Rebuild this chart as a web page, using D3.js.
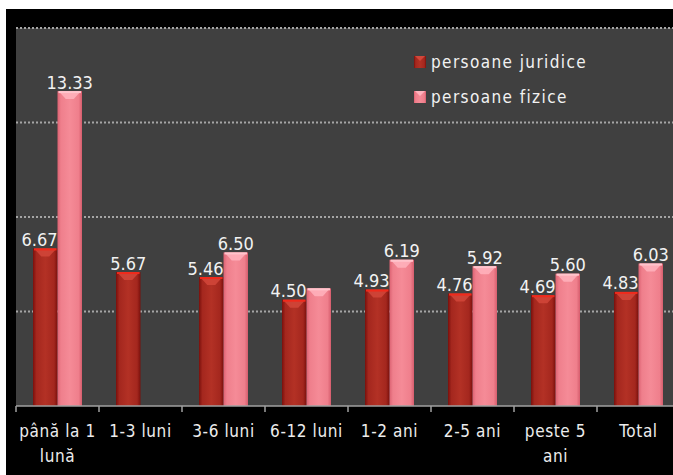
<!DOCTYPE html>
<html>
<head>
<meta charset="utf-8">
<script src="https://cdn.jsdelivr.net/npm/d3@7"></script>
<style>
  html, body { margin: 0; padding: 0; background: #fff; }
  svg { display: block; }
</style>
</head>
<body>
<div id="chart"></div>
<script>
// data
const categories = ["până la 1 lună", "1-3 luni", "3-6 luni", "6-12 luni", "1-2 ani", "2-5 ani", "peste 5 ani", "Total"];
const juridice = [6.67, 5.67, 5.46, 4.50, 4.93, 4.76, 4.69, 4.83];
const fizice = [13.33, null, 6.50, 4.98, 6.19, 5.92, 5.60, 6.03];
const fiziceLabelHidden = ["6-12 luni"];   // no label printed on that bar
const seriesNames = ["persoane juridice", "persoane fizice"];
const yTicks = [0, 4, 8, 12, 16];

const width = 673, height = 475;
const font = "'DejaVu Sans Condensed', 'DejaVu Sans', sans-serif";

const svg = d3.select("#chart")
    .append("svg")
    .attr("width", width)
    .attr("height", height);

// black chart frame, white strip on top/left
svg.append("rect")
    .attr("x", 6).attr("y", 9)
    .attr("width", width - 6).attr("height", height - 9)
    .attr("fill", "#000");

const plot = { left: 16, top: 28, bottom: 406 };

// bands run past the right edge (chart is cropped there)
const x = d3.scaleBand()
    .domain(categories)
    .range([plot.left, plot.left + 83 * categories.length]);

const xSub = d3.scaleBand()
    .domain(["jur", "fiz"])
    .range([17, 66]);

const y = d3.scaleLinear()
    .domain([0, 16])
    .range([plot.bottom, plot.top]);

// plot area
svg.append("rect")
    .attr("x", plot.left).attr("y", plot.top)
    .attr("width", width - plot.left)
    .attr("height", plot.bottom - plot.top)
    .attr("fill", "#404040");

// dotted gridlines
svg.append("g")
    .selectAll("line")
    .data(yTicks.filter(d => d > 0))
    .join("line")
    .attr("x1", plot.left).attr("x2", width)
    .attr("y1", d => y(d)).attr("y2", d => y(d))
    .attr("stroke", "#a5a5a5")
    .attr("stroke-width", 2)
    .attr("stroke-dasharray", "2,2");

// gradients for the glossy bars
const defs = svg.append("defs");
function hGrad(id, stops) {
    const g = defs.append("linearGradient").attr("id", id)
        .attr("x1", "0%").attr("x2", "100%").attr("y1", "0%").attr("y2", "0%");
    stops.forEach(s => g.append("stop").attr("offset", s[0]).attr("stop-color", s[1]));
}
hGrad("gJur", [["0%", "#7a100c"], ["14%", "#a4271e"], ["50%", "#b33125"], ["86%", "#a4271e"], ["100%", "#7a100c"]]);
hGrad("gFiz", [["0%", "#dc6272"], ["14%", "#ef7f8c"], ["50%", "#f58b97"], ["86%", "#ef7f8c"], ["100%", "#d65d6d"]]);

const style = {
    jur: { fill: "url(#gJur)", cap: "#d2473a", line: "#f02a1c" },
    fiz: { fill: "url(#gFiz)", cap: "#ffb3bd", line: "#ffc4cc" }
};

const bars = [];
categories.forEach((c, i) => {
    bars.push({ cat: c, key: "jur", value: juridice[i], other: fizice[i] });
    if (fizice[i] != null) bars.push({ cat: c, key: "fiz", value: fizice[i], other: juridice[i] });
});

const bw = xSub.bandwidth();
const barG = svg.append("g");
bars.forEach(b => {
    const x0 = x(b.cat) + xSub(b.key);
    const top = y(b.value);
    const st = style[b.key];
    barG.append("rect")
        .attr("x", x0).attr("y", top)
        .attr("width", bw).attr("height", plot.bottom - top)
        .attr("fill", st.fill);
    // bevelled top cap
    barG.append("path")
        .attr("d", `M${x0 + 1},${top} L${x0 + bw - 1},${top} L${x0 + bw / 2 + 4},${top + 8} L${x0 + bw / 2 - 4},${top + 8} Z`)
        .attr("fill", st.cap)
        .attr("opacity", 0.85);
    barG.append("line")
        .attr("x1", x0 + 1).attr("x2", x0 + bw - 1)
        .attr("y1", top + 1).attr("y2", top + 1)
        .attr("stroke", st.line).attr("stroke-width", 2);
});

// axis line and ticks
const axisG = svg.append("g");
axisG.append("line")
    .attr("x1", plot.left).attr("x2", width)
    .attr("y1", plot.bottom).attr("y2", plot.bottom)
    .attr("stroke", "#a0a0a0").attr("stroke-width", 1.5);
axisG.selectAll("line.tick")
    .data(categories)
    .join("line")
    .attr("class", "tick")
    .attr("x1", d => x(d)).attr("x2", d => x(d))
    .attr("y1", plot.bottom).attr("y2", plot.bottom + 6)
    .attr("stroke", "#a0a0a0").attr("stroke-width", 1.5);

// value labels
const labG = svg.append("g")
    .attr("font-family", font)
    .attr("font-size", 18)
    .attr("fill", "#f2f2f2");
bars.forEach(b => {
    if (b.key === "fiz" && fiziceLabelHidden.includes(b.cat)) return;
    const x0 = x(b.cat) + xSub(b.key);
    const t = labG.append("text")
        .attr("y", y(b.value) - 2.5)
        .text(b.value.toFixed(2));
    // juridice labels with a neighbour bar are pushed left of it
    if (b.key === "jur" && b.other != null) {
        t.attr("x", x0 + bw).attr("text-anchor", "end");
    } else {
        t.attr("x", x0 + bw / 2).attr("text-anchor", "middle");
    }
});

// category labels, wrapped to the band
const catG = svg.append("g")
    .attr("font-family", font)
    .attr("font-size", 17)
    .attr("letter-spacing", 0.6)
    .attr("fill", "#ececec")
    .attr("text-anchor", "middle");
categories.forEach(c => {
    const cx = x(c) + x.bandwidth() / 2;
    const t = catG.append("text")
        .attr("x", cx)
        .attr("y", plot.bottom + 31);
    const words = c.split(" ");
    let line = [];
    let tspan = t.append("tspan").attr("x", cx).attr("dy", 0);
    words.forEach(w => {
        line.push(w);
        tspan.text(line.join(" "));
        if (tspan.node().getComputedTextLength() > 78 && line.length > 1) {
            line.pop();
            tspan.text(line.join(" "));
            line = [w];
            tspan = t.append("tspan")
                .attr("x", cx)
                .attr("dy", 25)
                .text(w);
        }
    });
});

// legend
const legend = svg.append("g")
    .attr("font-family", font)
    .attr("font-size", 17)
    .attr("letter-spacing", 1.4)
    .attr("fill", "#f2f2f2");
seriesNames.forEach((name, i) => {
    const key = i === 0 ? "jur" : "fiz";
    const cy = 62 + i * 35;
    legend.append("rect")
        .attr("x", 414).attr("y", cy - 6)
        .attr("width", 12).attr("height", 12)
        .attr("fill", style[key].fill);
    legend.append("path")
        .attr("d", `M415,${cy - 6} L425,${cy - 6} L420,${cy - 1} Z`)
        .attr("fill", style[key].cap);
    legend.append("text")
        .attr("x", 431).attr("y", cy + 6)
        .text(name);
});
</script>
</body>
</html>
